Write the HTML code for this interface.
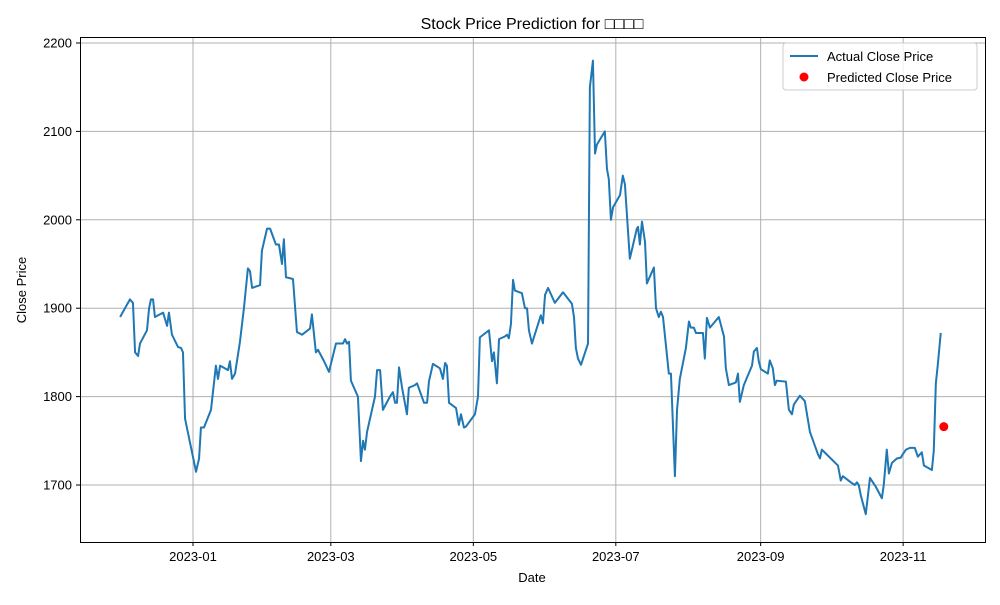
<!DOCTYPE html>
<html><head><meta charset="utf-8"><style>
body{margin:0;background:#fff;}
svg text{font-family:"Liberation Sans","DejaVu Sans",sans-serif;fill:#000;}
</style></head><body>
<svg id="chart" width="1000" height="600" xmlns="http://www.w3.org/2000/svg">
<rect width="1000" height="600" fill="#fff"/>
<g id="grid"></g>
<g id="series"></g>
<rect x="80.5" y="37.5" width="905" height="505" fill="none" stroke="#000" stroke-width="1"/>
<g id="axes"></g>
<text x="532" y="29" font-size="16" text-anchor="middle">Stock Price Prediction for □□□□</text>
<text x="532" y="582" font-size="13" text-anchor="middle">Date</text>
<text x="26" y="290" font-size="13" text-anchor="middle" transform="rotate(-90 26 290)">Close Price</text>
<g>
<rect x="783" y="43" width="194" height="47" fill="#fff" fill-opacity="0.8" stroke="#ccc" rx="3"/>
<line x1="790" y1="56" x2="818" y2="56" stroke="#1f77b4" stroke-width="2"/>
<text x="827" y="61" font-size="13">Actual Close Price</text>
<circle cx="804" cy="77" r="4.5" fill="#ff0000"/>
<text x="827" y="82" font-size="13">Predicted Close Price</text>
</g>
</svg>
<script>
// days since 2023-01-01
const days=[-31.2,-27.0,-25.7,-24.8,-23.5,-22.7,-19.7,-18.8,-18.0,-17.1,-16.3,-12.8,-11.1,-10.3,-9.0,-6.4,-5.1,-4.3,-3.4,1.3,2.6,3.4,4.7,7.7,9.8,10.7,11.6,15.0,15.8,16.7,18.0,20.1,21.8,23.5,24.4,25.3,28.7,29.5,31.7,33.0,35.5,36.8,38.1,38.9,39.8,42.8,44.5,46.7,50.1,50.9,52.6,53.5,56.1,58.2,61.2,64.2,65.1,65.9,66.8,67.6,70.6,71.9,72.8,73.6,74.5,77.9,78.8,80.1,81.3,84.3,85.6,86.5,87.3,88.2,89.5,91.6,92.4,95.0,95.9,98.9,100.2,101.0,102.7,105.7,107.0,107.9,108.7,109.6,112.6,113.8,114.7,116.0,116.8,120.7,122.0,122.8,126.7,128.0,128.8,130.1,131.0,133.5,134.4,135.2,136.1,137.0,137.8,140.8,142.1,143.0,143.8,145.1,148.9,149.8,150.7,152.0,154.9,158.4,162.2,163.1,163.9,164.8,166.1,169.1,169.9,171.2,172.1,172.9,176.3,177.2,178.0,178.9,179.8,182.8,184.0,184.9,187.0,190.0,190.5,191.3,192.2,193.5,194.3,197.3,198.2,199.4,200.3,201.2,203.7,204.6,206.3,207.2,208.4,211.0,212.3,213.1,214.4,215.3,218.3,219.1,220.0,221.3,225.1,227.3,228.1,229.4,232.4,233.3,234.1,235.8,239.3,240.1,241.4,242.2,243.1,246.1,246.9,248.2,249.1,249.9,253.8,255.1,256.4,257.2,259.8,261.9,264.1,267.5,268.4,269.2,276.1,277.3,278.2,281.6,283.3,284.2,285.0,285.9,288.0,289.8,292.3,294.9,295.7,297.0,297.9,299.2,301.3,303.0,303.9,305.2,306.9,309.0,310.3,312.0,312.9,316.3,317.1,318.0,318.8,320.1];
const prices=[1890,1910,1906,1850,1846,1860,1875,1900,1910,1910,1890,1895,1880,1895,1870,1856,1855,1850,1775,1715,1730,1765,1765,1785,1835,1820,1835,1830,1840,1820,1826,1862,1900,1945,1942,1923,1926,1965,1990,1990,1972,1972,1950,1978,1935,1933,1873,1870,1877,1893,1850,1853,1840,1828,1860,1860,1865,1860,1862,1818,1800,1727,1750,1740,1760,1800,1830,1830,1785,1800,1805,1793,1793,1833,1810,1780,1810,1813,1815,1793,1793,1817,1837,1832,1820,1838,1835,1793,1787,1768,1780,1765,1766,1780,1800,1867,1875,1840,1850,1815,1865,1868,1870,1866,1882,1932,1920,1917,1900,1900,1875,1860,1892,1883,1915,1923,1906,1918,1905,1890,1855,1843,1836,1860,2150,2180,2075,2085,2100,2058,2046,2000,2014,2028,2050,2040,1956,1990,1992,1972,1998,1975,1928,1946,1900,1890,1896,1890,1826,1826,1710,1785,1820,1855,1885,1878,1878,1872,1872,1843,1889,1878,1890,1868,1832,1813,1816,1826,1794,1813,1835,1851,1855,1840,1831,1826,1841,1832,1813,1818,1817,1785,1780,1791,1801,1795,1760,1735,1730,1740,1722,1705,1710,1703,1700,1703,1700,1688,1667,1708,1698,1685,1700,1740,1713,1725,1730,1731,1735,1740,1742,1742,1732,1737,1722,1717,1738,1815,1835,1872];
const predDays=[321.4];
const predPrices=[1766];
const yTicks=[1700,1800,1900,2000,2100,2200];
const xTickDays=[0,59,120,181,243,304];
const xTickLabels=["2023-01","2023-03","2023-05","2023-07","2023-09","2023-11"];

const NS="http://www.w3.org/2000/svg";
const xs=d=>193+d*2.336;
const ys=v=>485-(v-1700)*0.884;
function mk(tag,attrs,parent){const e=document.createElementNS(NS,tag);for(const k in attrs)e.setAttribute(k,attrs[k]);parent.appendChild(e);return e;}
const grid=document.getElementById('grid'),axes=document.getElementById('axes'),series=document.getElementById('series');
yTicks.forEach(v=>{const y=ys(v);
 const g=mk('line',{x1:80,x2:985,y1:y,y2:y,stroke:'#b0b0b0','stroke-width':1},grid);
 
 
 mk('line',{x1:76,x2:80,y1:y,y2:y,stroke:'#000'},axes);
 const t=mk('text',{x:72,y:y+4.5,'font-size':13,'text-anchor':'end'},axes);t.textContent=v;
 
 
});
xTickDays.forEach((d,i)=>{const x=xs(d);
 const g=mk('line',{x1:x,x2:x,y1:37,y2:542,stroke:'#b0b0b0','stroke-width':1},grid);
 
 
 mk('line',{x1:x,x2:x,y1:542,y2:546,stroke:'#000'},axes);
 const t=mk('text',{x:x,y:561,'font-size':13,'text-anchor':'middle'},axes);t.textContent=xTickLabels[i];
 
 
});
const p=mk('polyline',{points:days.map((d,i)=>xs(d)+','+ys(prices[i])).join(' '),fill:'none',stroke:'#1f77b4','stroke-width':2,'stroke-linejoin':'round'},series);


predDays.forEach((d,i)=>{const c=mk('circle',{cx:xs(d),cy:ys(predPrices[i]),r:4.5,fill:'#ff0000'},series);
 
 
});
</script>
</body></html>
